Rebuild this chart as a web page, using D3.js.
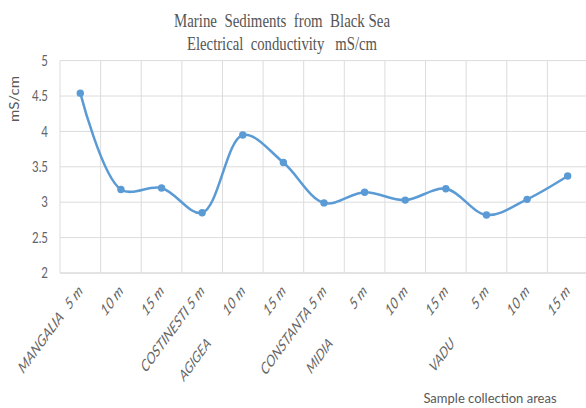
<!DOCTYPE html>
<html>
<head>
<meta charset="utf-8">
<script src="https://cdn.jsdelivr.net/npm/d3@7/dist/d3.min.js"></script>
<style>
  html, body { margin: 0; padding: 0; background: #fff; overflow: hidden; }
  svg { display: block; }
</style>
</head>
<body>
<svg id="chart" width="586" height="408"></svg>
<script>
// Sampling points along the Romanian Black Sea coast
const depthLabels = ["MANGALIA  5 m", "10 m", "15 m", "COSTINESTI 5 m", "10 m", "15 m",
                     "CONSTANTA 5 m", "5 m", "10 m", "15 m", "5 m", "10 m", "15 m"];
const siteLabels  = ["", "", "", "", "AGIGEA", "", "", "MIDIA", "", "", "VADU", "", ""];
// Electrical conductivity, mS/cm
const conductivity = [4.54, 3.18, 3.20, 2.85, 3.95, 3.56, 2.99, 3.14, 3.03, 3.19, 2.82, 3.04, 3.37];
const yTicks = [2, 2.5, 3, 3.5, 4, 4.5, 5];
const titleLines = ["Marine  Sediments  from  Black Sea", "Electrical  conductivity   mS/cm"];

const svg = d3.select("#chart");
const plot = { left: 60, right: 588, top: 60.6, bottom: 273 };
const grey = "#595959";
const blue = "#5b9bd5";
const sans = "Lato, 'Open Sans', sans-serif";
// keep runs of spaces visible in SVG text
const keepSpaces = (s, extra) => s.replace(/ {2,}/g, m => "\u00a0".repeat(m.length - 1 + extra) + " ");

const idx = d3.range(conductivity.length);
const x = d3.scaleBand().domain(idx).range([plot.left, plot.right]).padding(0);
const y = d3.scaleLinear().domain([2, 5]).range([plot.bottom, plot.top]);
const cx = d => x(d) + x.bandwidth() / 2;

// Horizontal grid
svg.append("g").selectAll("line").data(yTicks).join("line")
  .attr("x1", plot.left).attr("x2", plot.right)
  .attr("y1", d => y(d)).attr("y2", d => y(d))
  .attr("stroke", d => d === 2 ? "#c8c8c8" : "#dcdcdc").attr("stroke-width", 1);

// Vertical grid at category boundaries
svg.append("g").selectAll("line").data(idx).join("line")
  .attr("x1", d => x(d)).attr("x2", d => x(d))
  .attr("y1", plot.top).attr("y2", plot.bottom)
  .attr("stroke", "#dcdcdc").attr("stroke-width", 1);

// Y axis labels (slightly condensed)
const yAxis = d3.axisLeft(y).tickValues(yTicks).tickSize(0).tickPadding(0)
  .tickFormat(d3.format("~g"));
svg.append("g").attr("transform", `translate(${plot.left},0)`).call(yAxis)
  .call(g => g.select(".domain").remove())
  .selectAll("text")
  .attr("x", 0)
  .attr("transform", "translate(-12,0) scale(0.82,1.05)")
  .attr("fill", "#5f6368").style("font-family", sans).style("font-size", "14px");

// Y axis title
svg.append("text")
  .attr("transform", "translate(19,99) rotate(-90)")
  .attr("text-anchor", "middle")
  .attr("fill", grey).style("font-family", sans).style("font-size", "13px")
  .attr("textLength", 46).attr("lengthAdjust", "spacingAndGlyphs")
  .text("mS/cm");

// Category labels, rotated
const cats = svg.append("g").selectAll("g").data(idx).join("g")
  .attr("transform", d => `translate(${cx(d) + 3},292) scale(0.95,1.3) rotate(-45)`);
cats.append("text")
  .attr("text-anchor", "end")
  .attr("fill", "#666").style("font-family", sans).style("font-size", "12.5px").style("font-style", "italic")
  .text(d => keepSpaces(depthLabels[d], 1));
cats.filter(d => siteLabels[d] !== "").append("text")
  .attr("text-anchor", "end")
  .attr("x", -54).attr("y", 3)
  .attr("fill", "#666").style("font-family", sans).style("font-size", "12px").style("font-style", "italic")
  .text(d => siteLabels[d]);

// X axis title
svg.append("text")
  .attr("x", 490).attr("y", 403)
  .attr("text-anchor", "middle")
  .attr("fill", grey).style("font-family", sans).style("font-size", "13px")
  .text("Sample collection areas");

// Chart title
svg.append("g").selectAll("text").data(titleLines).join("text")
  .attr("x", 282).attr("y", (d, i) => 27 + i * 23)
  .attr("text-anchor", "middle")
  .attr("fill", "#555")
  .style("font-family", "'Liberation Serif', 'DejaVu Serif', serif").style("font-size", "18px")
  .attr("textLength", (d, i) => i === 0 ? 216 : 190)
  .attr("lengthAdjust", "spacingAndGlyphs")
  .text(d => keepSpaces(d, 0));

// Smoothed series line
const line = d3.line()
  .x(d => cx(d))
  .y(d => y(conductivity[d]))
  .curve(d3.curveCatmullRom.alpha(0.5));
svg.append("path").datum(idx)
  .attr("d", line)
  .attr("fill", "none").attr("stroke", blue).attr("stroke-width", 2.5)
  .attr("stroke-linejoin", "round").attr("stroke-linecap", "round");

// Markers
svg.append("g").selectAll("circle").data(idx).join("circle")
  .attr("cx", d => cx(d))
  .attr("cy", d => y(conductivity[d]))
  .attr("r", 3.7)
  .attr("fill", blue);
</script>
</body>
</html>
